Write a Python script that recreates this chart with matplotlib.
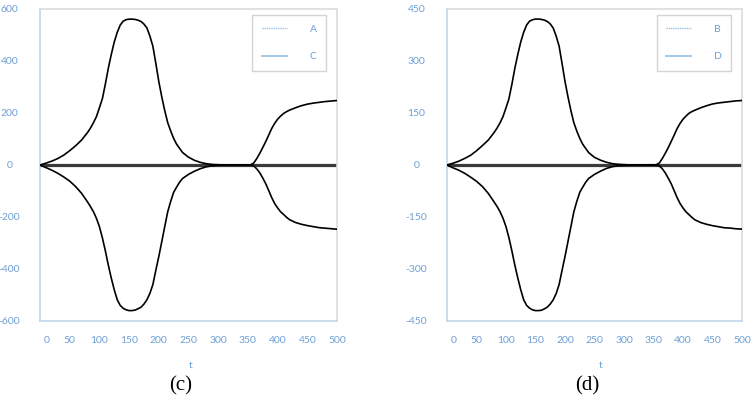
import matplotlib
matplotlib.use('Agg')
import matplotlib.pyplot as plt
import matplotlib.transforms as mtransforms
from matplotlib.lines import Line2D

# sample positions: finer where the curves are steep
t = (list(range(0, 80, 10)) + list(range(80, 245, 5)) + list(range(250, 355, 10))
     + list(range(355, 425, 5)) + list(range(430, 505, 10)))

# panel (c)
c_upper = [0, 7, 15, 25, 38, 55, 74, 96,
           125, 142, 163, 186, 220, 255, 311, 372, 425, 473, 510, 538, 553, 559, 561, 561, 560,
           557, 552, 542, 527, 496, 457, 391, 321, 262, 209, 163, 131, 102, 80, 64, 48,
           30, 18, 10, 5, 2, 1, 0, 0, 0, 0, 0,
           1, 8, 25, 45, 67, 90, 115, 140, 160, 176, 188, 198, 205, 211,
           220, 228, 234, 238, 241, 244, 246, 248]
c_lower = [0, -10, -20, -32, -46, -62, -83, -109,
           -142, -160, -180, -205, -237, -280, -330, -385, -435, -480, -518, -540, -551, -557, -560, -560, -558,
           -553, -547, -535, -518, -494, -460, -405, -352, -295, -237, -180, -140, -105, -85, -66, -52,
           -36, -24, -14, -7, -3, -1, 0, 0, 0, 0, 0,
           0, -4, -15, -30, -50, -72, -98, -125, -148, -165, -180, -190, -201, -210,
           -221, -228, -233, -237, -241, -243, -245, -247]
# panel (d)
d_upper = [0, 5, 11, 19, 28, 41, 56, 72,
           94, 107, 122, 140, 165, 191, 233, 279, 319, 355, 383, 404, 415, 419, 421, 421, 420,
           418, 414, 407, 395, 372, 343, 293, 241, 197, 157, 122, 98, 77, 60, 48, 36,
           22, 14, 8, 4, 2, 1, 0, 0, 0, 0, 0,
           1, 6, 19, 34, 50, 68, 86, 105, 120, 132, 141, 149, 154, 158,
           165, 171, 176, 179, 181, 183, 185, 186]
d_lower = [0, -8, -15, -24, -35, -47, -62, -82,
           -107, -120, -135, -154, -178, -210, -248, -289, -326, -360, -389, -405, -413, -418, -420, -420, -419,
           -415, -410, -401, -389, -371, -345, -304, -264, -221, -178, -135, -105, -79, -64, -50, -39,
           -27, -18, -10, -5, -2, -1, 0, 0, 0, 0, 0,
           0, -3, -11, -23, -38, -54, -74, -94, -111, -124, -135, -143, -151, -158,
           -166, -171, -175, -178, -181, -182, -184, -185]

x_ticks = [0, 50, 100, 150, 200, 250, 300, 350, 400, 450, 500]
c_yticks = [-600, -400, -200, 0, 200, 400, 600]
d_yticks = [-450, -300, -150, 0, 150, 300, 450]

blue_txt = '#6d9fd4'
blue_line = '#9cc3e5'
plt.rcParams['font.family'] = ['Lato', 'DejaVu Sans']

fig = plt.figure(figsize=(7.54, 3.98), dpi=100)
W, H = 754, 398


def make_panel(left_px, right_px, up, lo, yticks, names, tag, tag_x, t_x):
    ax = fig.add_axes([left_px / W, 1 - 321 / H, (right_px - left_px) / W, 312 / H])
    ax.axhline(0, color='#3a3a3a', lw=2.3, zorder=2)
    ax.plot(t, up, color='black', lw=1.2, zorder=3)
    ax.plot(t, lo, color='black', lw=1.2, zorder=3)
    ax.set_xlim(0, 500)
    ax.set_ylim(yticks[0], yticks[-1])
    ax.set_xticks(x_ticks)
    ax.set_xticklabels([str(v) for v in x_ticks])
    ax.set_yticks(yticks)
    ax.set_yticklabels([str(v) for v in yticks])
    ax.set_xticks(x_ticks[1:-1], minor=True)
    ax.set_yticks([yticks[1], yticks[2], yticks[4], yticks[5]], minor=True)
    ax.tick_params(which='major', length=0, labelsize=7.5, labelcolor=blue_txt)
    ax.tick_params(axis='x', which='major', pad=11)
    ax.tick_params(axis='y', which='major', pad=22)
    for lab in ax.get_yticklabels():
        lab.set_horizontalalignment('center')
    ax.tick_params(which='minor', direction='in', length=8, width=1.0, color=blue_line)
    # the "0" label sits a little to the right in the original
    off = mtransforms.ScaledTranslation(7 / 100, 0, fig.dpi_scale_trans)
    lab0 = ax.get_xticklabels()[0]
    lab0.set_transform(lab0.get_transform() + off)
    for s in ['top', 'right']:
        ax.spines[s].set_color('#dcdcdc')
    for s in ['left', 'bottom']:
        ax.spines[s].set_color('#c3d6ea')
    for s in ax.spines.values():
        s.set_linewidth(1.2)
    handles = [Line2D([], [], color=blue_line, lw=1, ls=(0, (1, 0.6))),
               Line2D([], [], color=blue_line, lw=1.3)]
    leg = ax.legend(handles, names, loc='upper right', bbox_to_anchor=(0.963, 0.98),
                    fontsize=7.5, handlelength=2.4, handletextpad=2.2, labelspacing=1.75,
                    borderpad=0.9, fancybox=False, edgecolor='#d4d4d4', framealpha=1,
                    labelcolor=blue_txt, borderaxespad=0)
    leg.get_frame().set_linewidth(1.0)
    fig.text(t_x / W, 1 - 365 / H, 't', ha='center', va='center', fontsize=7.5, color=blue_txt)
    fig.text(tag_x / W, 1 - 386 / H, tag, ha='center', va='center', fontsize=15,
             family='Liberation Serif', color='black')
    return ax


make_panel(40, 337, c_upper, c_lower, c_yticks, ['A', 'C'], '(c)', 181, 191)
make_panel(447, 742, d_upper, d_lower, d_yticks, ['B', 'D'], '(d)', 587, 601)

fig.savefig('out.png', dpi=100)
